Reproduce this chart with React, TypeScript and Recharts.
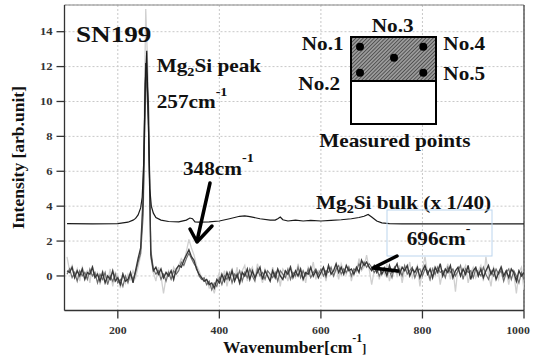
import React from 'react';
import { LineChart, Line, XAxis, YAxis, CartesianGrid, ReferenceLine } from 'recharts';

// sample grid: 100..1000 cm-1 every 5 cm-1
const wavenumbers = Array.from({ length: 181 }, (_, i) => 100 + i * 5);

// measured points (dark, mid and light traces)
const sampleDark = [
  0.3, 0.2, 0.5, -0.1, 0.3, 0.0, 0.4, -0.2, 0.2, 0.1, 0.5, -0.1, 0.1, -0.3, 0.2, -0.4, 0.0, -0.2, 0.3, -0.3,
  -0.1, -0.5, 0.1, -0.3, -0.2, 0.2, -0.4, 0.3, 1.0, 1.6, 4.5, 12.2, 10.0, 1.2, 0.3, 0.5, 0.1, 0.4, -0.1, 0.2,
  0.0, 0.3, -0.2, 0.4, 0.6, 0.5, 0.9, 1.2, 1.5, 1.1, 0.9, 0.4, 0.1, -0.1, -0.3, -0.2, -0.5, -0.4, -0.7, -0.2,
  -0.4, 0.1, -0.3, 0.2, -0.2, 0.3, -0.3, 0.1, -0.4, 0.2, 0.0, 0.4, -0.2, 0.3, -0.1, 0.2, 0.5, -0.2, 0.3, 0.0,
  -0.3, 0.3, -0.1, 0.4, 0.0, -0.2, 0.3, 0.1, 0.5, -0.1, 0.3, 0.0, 0.4, -0.2, 0.2, 0.1, 0.5, 0.0, 0.3, -0.1,
  0.2, 0.5, 0.0, 0.6, 0.1, 0.3, 0.7, 0.2, 0.5, 0.1, 0.6, 0.3, 0.4, 0.1, 0.5, 0.2, 0.9, 0.6, 0.8, 0.5,
  0.3, 0.6, 0.2, 0.5, 0.1, 0.4, 0.0, 0.6, 0.2, 0.4, 0.7, 0.1, 0.5, 0.3, 0.6, 0.0, 0.4, 0.2, 0.5, -0.1,
  0.3, 0.6, 0.1, 0.4, -0.1, 0.5, 0.2, 0.7, 0.0, 0.4, 0.2, 0.6, -0.1, 0.3, 0.5, 0.0, 0.4, 0.1, 0.6, -0.2,
  0.3, 0.5, 0.0, 0.4, -0.1, 0.3, 0.6, 0.1, 0.4, -0.2, 0.2, 0.5, 0.0, 0.3, -0.1, 0.4, 0.2, -0.3, 0.3, 0.0,
  0.2,
];
const sampleMid = [
  0.1, 0.4, -0.1, 0.2, -0.3, 0.3, 0.0, 0.2, -0.2, 0.4, 0.0, 0.2, -0.4, 0.1, -0.2, 0.2, -0.5, 0.0, -0.3, 0.1,
  -0.4, -0.2, -0.6, 0.0, -0.4, 0.1, -0.2, 0.2, 0.8, 1.3, 3.5, 11.8, 9.0, 1.5, 0.4, 0.1, 0.3, -0.2, 0.1, -0.3,
  0.2, -0.2, 0.3, 0.1, 0.3, 0.8, 0.6, 1.0, 1.3, 1.0, 0.7, 0.5, 0.0, -0.2, -0.1, -0.5, -0.3, -0.8, -0.4, -0.6,
  -0.1, -0.5, 0.0, -0.2, 0.2, -0.4, 0.1, -0.1, 0.3, -0.3, 0.2, -0.1, 0.4, 0.0, -0.3, 0.4, 0.0, 0.2, -0.2, 0.3,
  0.1, -0.1, 0.2, -0.3, 0.3, 0.1, -0.1, 0.4, -0.2, 0.2, 0.0, 0.5, -0.1, 0.3, 0.0, 0.4, -0.1, 0.2, 0.4, 0.1,
  0.4, 0.0, 0.3, 0.2, 0.5, 0.0, 0.4, 0.6, 0.1, 0.4, 0.2, 0.5, 0.0, 0.4, 0.3, 0.7, 0.4, 0.8, 0.5, 0.7,
  0.5, 0.2, 0.4, 0.0, 0.3, 0.5, 0.2, 0.3, -0.1, 0.5, 0.2, 0.4, 0.0, 0.6, 0.1, 0.3, 0.5, -0.1, 0.3, 0.4,
  0.0, 0.4, 0.3, -0.2, 0.4, 0.1, 0.5, 0.2, 0.3, -0.1, 0.5, 0.2, 0.4, 0.0, 0.3, 0.6, -0.2, 0.4, 0.2, 0.3,
  -0.1, 0.4, 0.2, 0.0, 0.5, 0.1, -0.2, 0.3, 0.0, 0.4, 0.1, 0.3, -0.3, 0.2, 0.4, -0.2, 0.3, 0.0, -0.4, 0.2,
  -0.2,
];
const sampleLight = [
  1.1, 0.3, 0.6, 0.0, 0.4, -0.3, 0.5, 0.1, 0.3, -0.4, 0.6, 0.0, 0.2, -0.5, 0.3, 0.0, -0.3, 0.4, -0.6, 0.2,
  0.0, -0.7, 0.2, -0.4, 0.1, -0.2, 0.3, -0.1, 0.5, 1.2, 5.0, 15.3, 11.0, 1.0, 0.2, -0.3, 0.5, 0.0, -1.0, -0.1,
  0.3, -0.2, 0.5, 0.2, 0.6, 1.0, 0.8, 1.4, 2.1, 1.6, 1.2, 0.6, 0.3, -0.1, -0.3, -0.2, -0.7, -0.5, -1.0, -0.3,
  0.2, -0.4, 0.3, -0.6, 0.1, 0.4, -0.2, 0.5, -0.5, 0.3, 0.6, -0.3, 0.2, 0.5, -0.1, 0.7, 0.1, -0.4, 0.4, 0.1,
  -0.2, 0.5, 0.0, 0.3, -0.6, 0.4, 0.2, -0.3, 0.6, 0.1, -0.1, 0.7, 0.0, 0.3, -0.4, 0.5, 0.2, 0.8, -0.2, 0.3,
  0.1, 0.4, -0.3, 0.6, 0.2, 0.0, 0.5, -0.2, 0.7, 0.3, 0.1, 0.6, -0.3, 0.4, 0.2, 1.0, 0.3, 0.5, 1.2, 0.4,
  -0.5, 0.3, 0.6, -0.2, 0.4, 0.1, 0.7, -0.3, 0.3, 0.5, 0.0, 0.6, -0.4, 0.4, 0.2, 0.8, -0.1, 0.3, 0.6, -0.6,
  0.4, 1.1, 0.2, -0.3, 0.5, 0.0, 0.6, -0.5, 0.3, 0.2, 0.7, -0.2, 0.4, -0.9, 0.5, 0.1, 0.3, 0.6, -0.4, 0.2,
  0.5, -0.1, 0.3, 0.6, -0.3, 1.1, 0.1, -0.6, 0.5, 0.2, -0.2, 0.6, 0.0, 0.3, -0.5, 0.4, 0.1, -1.0, 0.2, 0.5,
  -0.8,
];

// Mg2Si bulk reference, scaled x 1/40 and offset
const bulkWavenumbers = [
  100, 150, 200, 220, 230, 235, 240, 245, 248, 251, 254, 257, 260, 263, 266, 270, 275, 285, 300, 320,
  335, 342, 347, 352, 360, 380, 400, 420, 440, 450, 460, 480, 500, 510, 515, 520, 525, 535, 550, 565,
  580, 600, 620, 640, 660, 675, 685, 693, 700, 710, 720, 735, 760, 800, 900, 1000,
];
const bulkIntensity = [
  3.0, 2.98, 3.0, 3.08, 3.2, 3.3, 3.5, 3.9, 4.5, 6.5, 11.0, 12.9, 9.0, 5.0, 4.0, 3.6, 3.35, 3.2, 3.12, 3.1,
  3.2, 3.32, 3.28, 3.1, 3.08, 3.1, 3.15, 3.28, 3.42, 3.44, 3.4, 3.28, 3.2, 3.2, 3.28, 3.38, 3.22, 3.15, 3.2, 3.15,
  3.18, 3.15, 3.18, 3.22, 3.28, 3.35, 3.42, 3.52, 3.38, 3.15, 3.04, 3.0, 2.99, 2.98, 2.98, 2.98,
];

const xTicks = [200, 400, 600, 800, 1000];
const yTicks = [0, 2, 4, 6, 8, 10, 12, 14];

const rows = wavenumbers.map((x, i) => ({
  x,
  dark: sampleDark[i],
  mid: sampleMid[i],
  light: sampleLight[i],
}));
const bulkRows = bulkWavenumbers.map((x, i) => ({ x, bulk: bulkIntensity[i] }));

const serif = 'Liberation Serif, Times New Roman, DejaVu Serif, serif';
const txt = { fontFamily: serif, fontWeight: 700 };

function XTick({ x, y, payload }: any) {
  return (
    <g transform={`translate(${x},${y})`}>
      <text transform="scale(1.18,1)" textAnchor="middle" dy="0.71em" fontSize={10} style={txt} fill="#333">
        {payload.value}
      </text>
    </g>
  );
}

function YTick({ x, y, payload }: any) {
  return (
    <g transform={`translate(${x},${y})`}>
      <text transform="scale(1.2,1)" textAnchor="end" dy="0.35em" fontSize={10.5} style={txt} fill="#333">
        {payload.value}
      </text>
    </g>
  );
}

function Ann({ x, y, size = 18, sx = 1.18, children }: any) {
  return (
    <g transform={`translate(${x},${y}) scale(${sx},1)`}>
      <text x={0} y={0} fontSize={size} style={txt} fill="#111">
        {children}
      </text>
    </g>
  );
}

export default function App() {
  return (
    <div style={{ position: 'absolute', left: 0, top: 0, width: 534, height: 357, background: '#fff' }}>
      <LineChart width={534} height={357} data={rows} margin={{ top: 5, right: 10, left: 0, bottom: 0 }}>
        <CartesianGrid stroke="#c8c8c8" strokeDasharray="2 2" />
        <XAxis
          dataKey="x"
          type="number"
          domain={[95, 1000]}
          ticks={xTicks}
          allowDataOverflow
          height={46.5}
          tickSize={8}
          tickMargin={8.5}
          stroke="#333"
          strokeWidth={1.3}
          tick={(p: any) => <XTick {...p} />}
        />
        <YAxis
          type="number"
          domain={[-1.98, 15.53]}
          ticks={yTicks}
          allowDataOverflow
          width={64.5}
          tickSize={8}
          tickMargin={4}
          stroke="#333"
          strokeWidth={1.3}
          tick={(p: any) => <YTick {...p} />}
        />
        <ReferenceLine y={15.53} stroke="#888" strokeWidth={1} />
        <ReferenceLine x={1000} stroke="#444" strokeWidth={1.3} />
        <Line dataKey="light" stroke="#d0d0d0" strokeWidth={1.3} dot={false} isAnimationActive={false} />
        <Line dataKey="mid" stroke="#6e6e6e" strokeWidth={1.2} dot={false} isAnimationActive={false} />
        <Line dataKey="dark" stroke="#383838" strokeWidth={1.4} dot={false} isAnimationActive={false} />
        <Line data={bulkRows} dataKey="bulk" stroke="#1a1a1a" strokeWidth={1.2} dot={false} isAnimationActive={false} />
      </LineChart>

      <svg width={534} height={357} style={{ position: 'absolute', left: 0, top: 0, pointerEvents: 'none' }}>
        <defs>
          <pattern id="hatch" width="2.6" height="2.6" patternUnits="userSpaceOnUse" patternTransform="rotate(45)">
            <rect width="2.6" height="2.6" fill="#9a9a9a" />
            <line x1="0" y1="0" x2="0" y2="2.6" stroke="#2a2a2a" strokeWidth="1.2" />
          </pattern>
        </defs>

        <text transform="translate(24,157.5) rotate(-90)" textAnchor="middle" fontSize={17.5} style={txt} fill="#111">
          Intensity [arb.unit]
        </text>
        <text x={223} y={353} fontSize={17.5} style={txt} fill="#111">
          Wavenumber[cm
          <tspan fontSize={12} dy={-11}>-1</tspan>
          <tspan fontSize={12} dy={11}>]</tspan>
        </text>

        <Ann x={76} y={41.7} size={23}>SN199</Ann>
        <Ann x={156.7} y={71.7}>
          Mg<tspan fontSize={12} dy={4}>2</tspan>
          <tspan dy={-4}>Si peak</tspan>
        </Ann>
        <Ann x={156.7} y={108.3}>
          257cm<tspan fontSize={12} dy={-12}>-1</tspan>
        </Ann>
        <Ann x={183} y={175}>
          348cm<tspan fontSize={12} dy={-13}>-1</tspan>
        </Ann>
        <Ann x={316} y={208.5}>
          Mg<tspan fontSize={12} dy={4}>2</tspan>
          <tspan dy={-4}>Si bulk (x 1/40)</tspan>
        </Ann>
        <rect x={387} y={210} width={105} height={46} fill="none" stroke="#bcd5ee" strokeWidth={1} />
        <Ann x={406.7} y={245}>
          696cm<tspan fontSize={12} dy={-12.5}>-</tspan>
        </Ann>

        <g stroke="#000" strokeWidth={3.5} strokeLinecap="round" strokeLinejoin="round" fill="none">
          <line x1={210} y1={183} x2={197} y2={241} />
          <path d="M190,229 L197,242 L212,226" />
          <path d="M397,256 L373,268 L398,271" />
        </g>

        <rect x={351} y={37} width={85} height={44} fill="url(#hatch)" stroke="#000" strokeWidth={2} />
        <rect x={351} y={81} width={85} height={43} fill="#fff" stroke="#000" strokeWidth={2} />
        <g fill="#000">
          <circle cx={360} cy={46.7} r={4} />
          <circle cx={423.3} cy={46.7} r={4} />
          <circle cx={394} cy={57.7} r={4} />
          <circle cx={360} cy={72.7} r={4} />
          <circle cx={423.3} cy={72.7} r={4} />
        </g>
        <Ann x={371.7} y={31.7}>No.3</Ann>
        <Ann x={301.7} y={50}>No.1</Ann>
        <Ann x={443.3} y={50}>No.4</Ann>
        <Ann x={298.3} y={90}>No.2</Ann>
        <Ann x={443.3} y={80}>No.5</Ann>
        <Ann x={319.3} y={146.7}>Measured points</Ann>
      </svg>
    </div>
  );
}
